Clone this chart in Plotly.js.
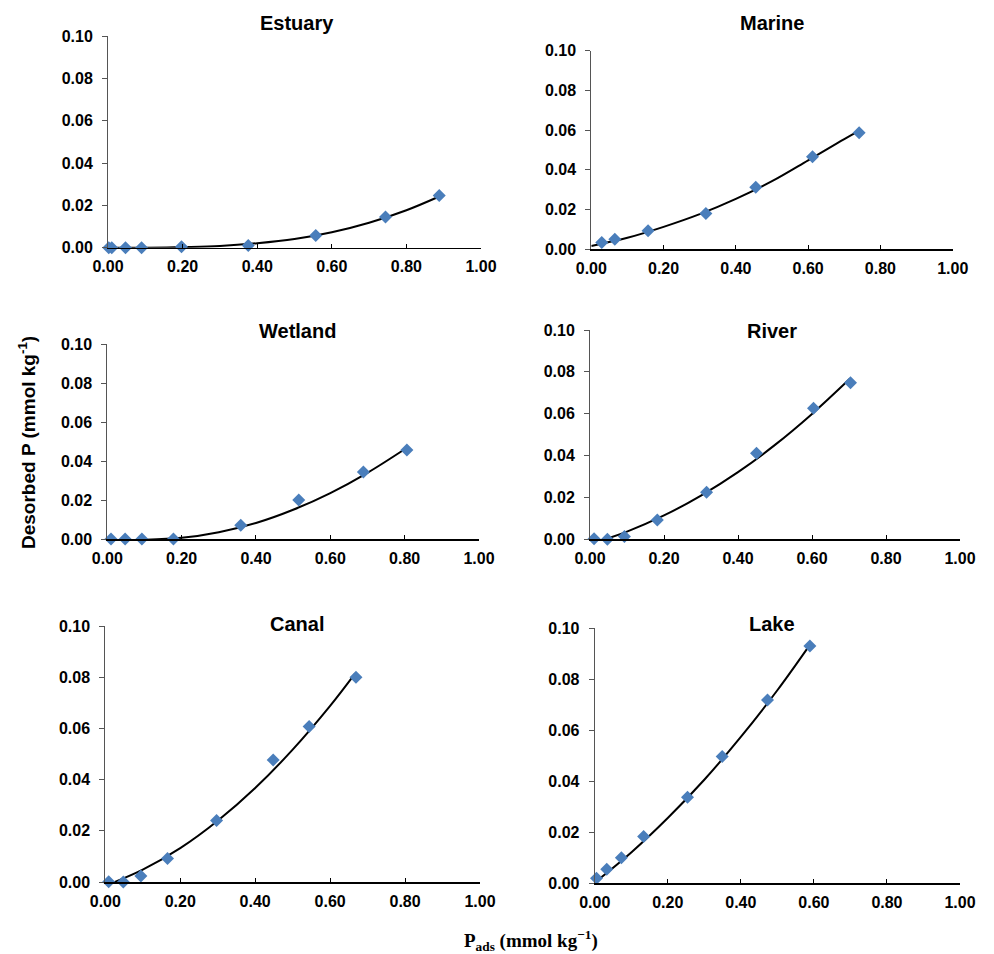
<!DOCTYPE html>
<html>
<head>
<meta charset="utf-8">
<script src="https://cdn.plot.ly/plotly-3.0.1.min.js"></script>
<style>html,body{margin:0;padding:0;background:#fff;}#chart{width:994px;height:954px;}</style>
</head>
<body>
<div id="chart"></div>
<script>
// ---- Data ----
const panelNames = ["Estuary", "Marine", "Wetland", "River", "Canal", "Lake"];

const estuaryX = [0.002, 0.010, 0.047, 0.090, 0.197, 0.376, 0.557, 0.744, 0.888];
const estuaryY = [0.0000, 0.0000, 0.0000, 0.0000, 0.0005, 0.0010, 0.0058, 0.0145, 0.0246];
const estuaryFitX = [0.00, 0.10, 0.20, 0.30, 0.40, 0.50, 0.60, 0.70, 0.80, 0.888];
const estuaryFitY = [0.0000, 0.0000, 0.0003, 0.0008, 0.0021, 0.0041, 0.0073, 0.0118, 0.0177, 0.0242];

const marineX = [0.029, 0.065, 0.157, 0.317, 0.455, 0.612, 0.741];
const marineY = [0.0034, 0.0050, 0.0094, 0.0180, 0.0312, 0.0466, 0.0587];
const marineFitX = [0.00, 0.10, 0.20, 0.30, 0.40, 0.50, 0.60, 0.70, 0.741];
const marineFitY = [0.0017, 0.0058, 0.0113, 0.0177, 0.0254, 0.0343, 0.0448, 0.0555, 0.0596];

const wetlandX = [0.010, 0.048, 0.093, 0.178, 0.359, 0.515, 0.689, 0.806];
const wetlandY = [0.0000, 0.0000, 0.0000, 0.0000, 0.0070, 0.0200, 0.0344, 0.0457];
const wetlandFitX = [0.00, 0.10, 0.20, 0.30, 0.40, 0.50, 0.60, 0.70, 0.804];
const wetlandFitY = [-0.0005, -0.0004, 0.0006, 0.0035, 0.0082, 0.0150, 0.0236, 0.0340, 0.0466];

const riverX = [0.011, 0.047, 0.093, 0.182, 0.315, 0.450, 0.604, 0.704];
const riverY = [0.0003, 0.0000, 0.0013, 0.0092, 0.0225, 0.0411, 0.0626, 0.0748];
const riverFitX = [0.00, 0.10, 0.20, 0.30, 0.40, 0.50, 0.60, 0.703];
const riverFitY = [-0.0022, 0.0037, 0.0114, 0.0209, 0.0321, 0.0451, 0.0599, 0.0768];

const canalX = [0.009, 0.048, 0.095, 0.166, 0.297, 0.448, 0.544, 0.669];
const canalY = [0.0001, 0.0000, 0.0023, 0.0092, 0.0240, 0.0477, 0.0607, 0.0800];
const canalFitX = [0.00, 0.10, 0.20, 0.30, 0.40, 0.50, 0.60, 0.667];
const canalFitY = [-0.0015, 0.0048, 0.0132, 0.0239, 0.0367, 0.0517, 0.0688, 0.0815];

const lakeX = [0.005, 0.033, 0.073, 0.134, 0.254, 0.349, 0.473, 0.589];
const lakeY = [0.0020, 0.0055, 0.0100, 0.0184, 0.0337, 0.0497, 0.0719, 0.0931];
const lakeFitX = [0.00, 0.10, 0.20, 0.30, 0.40, 0.50, 0.589];
const lakeFitY = [0.0003, 0.0121, 0.0256, 0.0406, 0.0574, 0.0757, 0.0935];

const xTickVals = [0, 0.2, 0.4, 0.6, 0.8, 1.0];
const yTickVals = [0, 0.02, 0.04, 0.06, 0.08, 0.10];

// ---- Layout geometry (pixels in a 994x954 page) ----
const W = 994, H = 954;
const boxes = [
  {x0: 108,   x1: 481,   yTop: 36,    yBot: 247.7, tx: 297,   ty: 23},
  {x0: 591.3, x1: 952.7, yTop: 50.7,  yBot: 249.3, tx: 771.7, ty: 23},
  {x0: 107.3, x1: 479,   yTop: 344.3, yBot: 539,   tx: 297,   ty: 331},
  {x0: 590,   x1: 960,   yTop: 330,   yBot: 539.3, tx: 771.7, ty: 331},
  {x0: 105.3, x1: 480,   yTop: 626,   yBot: 882,   tx: 296.7, ty: 624},
  {x0: 594.7, x1: 960,   yTop: 628.3, yBot: 883.3, tx: 771.7, ty: 624}
];

const series = [
  [estuaryX, estuaryY, estuaryFitX, estuaryFitY],
  [marineX, marineY, marineFitX, marineFitY],
  [wetlandX, wetlandY, wetlandFitX, wetlandFitY],
  [riverX, riverY, riverFitX, riverFitY],
  [canalX, canalY, canalFitX, canalFitY],
  [lakeX, lakeY, lakeFitX, lakeFitY]
];

const FONT = "Liberation Sans, Arial, Helvetica, sans-serif";
const traces = [];
const layout = {
  width: W, height: H,
  margin: {l: 0, r: 0, t: 0, b: 0},
  paper_bgcolor: "#ffffff",
  plot_bgcolor: "rgba(0,0,0,0)",
  showlegend: false,
  annotations: []
};

series.forEach((s, i) => {
  const n = i === 0 ? "" : String(i + 1);
  const b = boxes[i];
  traces.push({
    x: s[2], y: s[3], xaxis: "x" + n, yaxis: "y" + n,
    type: "scatter", mode: "lines",
    line: {color: "#000000", width: 2, shape: "spline", smoothing: 1.0},
    hoverinfo: "skip"
  });
  traces.push({
    x: s[0], y: s[1], xaxis: "x" + n, yaxis: "y" + n,
    type: "scatter", mode: "markers", cliponaxis: false,
    marker: {symbol: "diamond", size: 10, color: "#4a7ebb", line: {width: 0}}
  });
  layout["xaxis" + n] = {
    domain: [b.x0 / W, b.x1 / W],
    anchor: "y" + n,
    range: [0, 1],
    tickvals: xTickVals,
    tickformat: ".2f",
    showgrid: false, zeroline: false,
    showline: true, linecolor: "#000000", linewidth: 1.5,
    ticks: "inside", ticklen: 4, tickcolor: "#000000", tickwidth: 1,
    ticklabelstandoff: 4,
    tickfont: {family: FONT, size: 16, color: "#000000", weight: 700},
    fixedrange: true
  };
  layout["yaxis" + n] = {
    domain: [1 - b.yBot / H, 1 - b.yTop / H],
    anchor: "x" + n,
    range: [0, 0.1],
    tickvals: yTickVals,
    tickformat: ".2f",
    showgrid: false, zeroline: false,
    showline: true, linecolor: "#555555", linewidth: 1,
    ticks: "outside", ticklen: 5, tickcolor: "#555555", tickwidth: 1,
    ticklabelstandoff: 6,
    tickfont: {family: FONT, size: 16, color: "#000000", weight: 700},
    fixedrange: true
  };
  layout.annotations.push({
    text: panelNames[i],
    xref: "paper", yref: "paper",
    x: b.tx / W, y: 1 - b.ty / H,
    xanchor: "center", yanchor: "middle",
    showarrow: false,
    font: {family: FONT, size: 20, color: "#000000", weight: 700}
  });
});

// Shared axis titles
layout.annotations.push({
  text: "Desorbed P (mmol kg<sup>-1</sup>)",
  xref: "paper", yref: "paper",
  x: 27 / W, y: 1 - 443 / H,
  xanchor: "center", yanchor: "middle",
  textangle: -90, showarrow: false,
  font: {family: FONT, size: 19, color: "#000000", weight: 700}
});
layout.annotations.push({
  text: "P<sub>ads</sub> (mmol kg<sup>\u22121</sup>)",
  xref: "paper", yref: "paper",
  x: 531 / W, y: 1 - 940 / H,
  xanchor: "center", yanchor: "middle",
  showarrow: false,
  font: {family: "Liberation Serif, Times New Roman, serif", size: 19, color: "#000000", weight: 700}
});

Plotly.newPlot("chart", traces, layout, {displayModeBar: false, staticPlot: true});
</script>
</body>
</html>
